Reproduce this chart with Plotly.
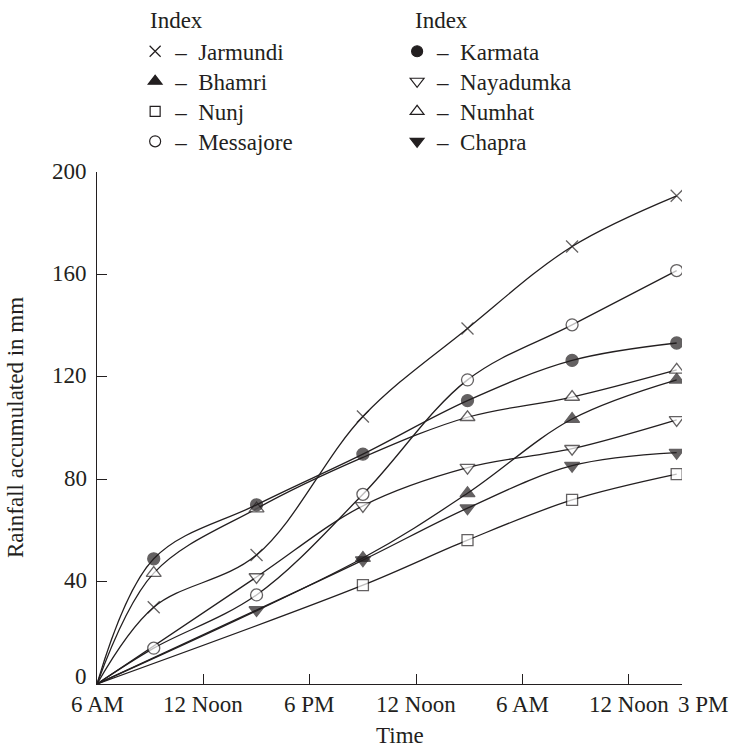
import plotly.graph_objects as go

# ---- data ----
hours = [0, 3.2, 9.0, 15.0, 20.9, 26.8, 32.7]
jarmundi = [0, 30.0, 50.4, 104.5, 138.9, 170.9, 190.7]
bhamri = [0, None, None, 49.2, 74.5, 103.5, 118.8]
nunj = [0, None, None, 38.6, 56.2, 71.9, 82.0]
messajore = [0, 14.0, 34.8, 74.1, 118.8, 140.3, 161.5]
karmata = [0, 48.9, 70.0, 89.8, 110.7, 126.4, 133.2]
nayadumka = [0, None, 41.8, 69.6, 84.5, 91.9, 103.2]
numhat = [0, 43.3, 68.5, 88.5, 104.2, 112.1, 122.7]
chapra = [0, None, 28.9, 48.4, 68.7, 85.3, 90.4]

tick_hours = [0, 6, 12, 18, 24, 30, 33]
tick_labels = ["6 AM", "12 Noon", "6 PM", "12 Noon", "6 AM", "12 Noon", "3 PM"]
y_ticks = [0, 40, 80, 120, 160, 200]

INK = "#231f20"
FONT = "Liberation Serif"

# name, values, symbol, fill, size, hidden marker indices
series = [
    ("Nunj", nunj, "square", "white", 11, []),
    ("Chapra", chapra, "triangle-down", INK, 13, []),
    ("Bhamri", bhamri, "triangle-up", INK, 13, []),
    ("Nayadumka", nayadumka, "triangle-down", "white", 13, []),
    ("Messajore", messajore, "circle", "white", 12, []),
    ("Numhat", numhat, "triangle-up", "white", 13, [3]),
    ("Karmata", karmata, "circle", INK, 12, []),
    ("Jarmundi", jarmundi, "x-thin-open", INK, 12, []),
]

fig = go.Figure()
for name, vals, sym, fill, size, hidden in series:
    sizes = [0 if (i == 0 or i in hidden) else size for i in range(len(hours))]
    fig.add_trace(go.Scatter(
        x=hours, y=vals, mode="lines+markers", name=name,
        connectgaps=True, showlegend=False,
        line=dict(shape="spline", smoothing=1.0, color=INK, width=1.3),
        marker=dict(symbol=sym, size=sizes, color=fill,
                    line=dict(color=INK, width=1.3)),
    ))

# legend: two columns of four, each entry in its own legend box
legend_columns = [
    (0.0652, ["Jarmundi", "Bhamri", "Nunj", "Messajore"]),
    (0.513, ["Karmata", "Nayadumka", "Numhat", "Chapra"]),
]
row_y = [1.2357, 1.1771, 1.1184, 1.0598]
lookup = {s[0]: s for s in series}
legend_layouts = {}
k = 0
for xcol, names in legend_columns:
    for r, name in enumerate(names):
        k += 1
        key = "legend" if k == 1 else f"legend{k}"
        _, _, sym, fill, size, _ = lookup[name]
        fig.add_trace(go.Scatter(
            x=[None], y=[None], mode="markers", legend=key,
            name="\u2013\u00a0\u00a0" + name, showlegend=True,
            marker=dict(symbol=sym, size=size - 1, color=fill,
                        line=dict(color=INK, width=1.2)),
        ))
        legend_layouts[key] = dict(
            x=xcol, y=row_y[r], xanchor="left", yanchor="middle",
            bgcolor="rgba(0,0,0,0)", borderwidth=0,
            font=dict(family=FONT, size=23, color=INK),
            itemclick=False, itemdoubleclick=False,
        )

# x tick labels as text under the ticks
for i, (hv, lab) in enumerate(zip(tick_hours, tick_labels)):
    fig.add_annotation(
        x=hv, y=0, xref="x", yref="y", text=lab, showarrow=False,
        yanchor="top", xanchor="center", yshift=-6,
        xshift=21 if i == len(tick_hours) - 1 else 0,
        font=dict(family=FONT, size=23, color=INK),
    )

# y tick labels, the zero lifted slightly clear of the x labels
for v in y_ticks:
    fig.add_annotation(
        x=0, y=v, xref="x", yref="y", text=str(v), showarrow=False,
        xanchor="right", yanchor="middle", xshift=-8,
        yshift=8 if v == 0 else 1,
        font=dict(family=FONT, size=23, color=INK),
    )

# titles
fig.add_annotation(x=0.518, y=-0.10, xref="paper", yref="paper", text="Time",
                   showarrow=False, xanchor="center", yanchor="middle",
                   font=dict(family=FONT, size=23, color=INK))
fig.add_annotation(x=-0.140, y=0.5, xref="paper", yref="paper",
                   text="Rainfall accumulated in mm", textangle=-90,
                   showarrow=False, xanchor="center", yanchor="middle",
                   font=dict(family=FONT, size=23, color=INK))
# legend headings
for xp in (0.0866, 0.5404):
    fig.add_annotation(x=xp, y=1.296, xref="paper", yref="paper", text="Index",
                       showarrow=False, xanchor="left", yanchor="middle",
                       font=dict(family=FONT, size=23, color=INK))

fig.update_layout(
    width=731, height=747,
    margin=dict(l=97, r=49, t=172, b=63),
    paper_bgcolor="white", plot_bgcolor="white",
    font=dict(family=FONT, size=23, color=INK),
    xaxis=dict(range=[0, 33], tickvals=tick_hours, showticklabels=False,
               ticks="inside", ticklen=10, tickwidth=1.3, tickcolor=INK,
               showline=True, linecolor=INK, linewidth=1.3,
               showgrid=False, zeroline=False),
    yaxis=dict(range=[0, 200], tickvals=y_ticks, showticklabels=False,
               ticks="inside", ticklen=10,
               tickwidth=1.3, tickcolor=INK, showline=True, linecolor=INK,
               linewidth=1.3, showgrid=False, zeroline=False),
    **legend_layouts,
)

# remove the browser's default page margin so the figure fills the window
fig.write_html(
    "out.html",
    config={"displayModeBar": False},
    post_script="document.body.style.margin='0';document.body.style.overflow='hidden';",
)
